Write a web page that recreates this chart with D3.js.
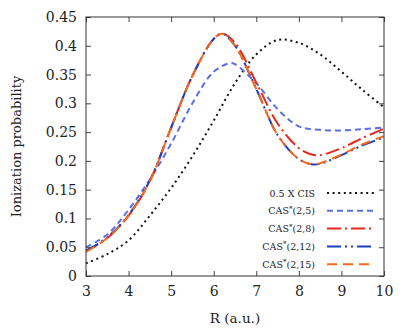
<!DOCTYPE html>
<html>
<head>
<meta charset="utf-8">
<script src="https://cdn.jsdelivr.net/npm/d3@7"></script>
<style>
  body { margin: 0; background: #fff; }
</style>
</head>
<body>
<div id="svg-container"></div>
<script>
// Values.
const xTicks = [3, 4, 5, 6, 7, 8, 9, 10];
const yTicks = [0, 0.05, 0.1, 0.15, 0.2, 0.25, 0.3, 0.35, 0.4, 0.45];
const yTickLabels = ['0', '0.05', '0.1', '0.15', '0.2', '0.25', '0.3', '0.35', '0.4', '0.45'];

const rCis = [3, 3.5, 4, 4.5, 5, 5.5, 6, 6.5, 7, 7.5, 8, 8.5, 9, 9.5, 10];
const cis = [0.022, 0.038, 0.062, 0.105, 0.153, 0.208, 0.27, 0.335, 0.385, 0.41, 0.405, 0.385, 0.355, 0.323, 0.293];

const rCas5 = [3, 3.5, 4, 4.5, 5, 5.5, 6, 6.4, 6.5, 7, 7.5, 8, 8.5, 9, 9.5, 10];
const cas5 = [0.05, 0.072, 0.115, 0.168, 0.23, 0.3, 0.355, 0.37, 0.368, 0.335, 0.29, 0.26, 0.254, 0.253, 0.255, 0.258];

const rCas = [3, 3.5, 4, 4.5, 5, 5.5, 6, 6.2, 6.5, 7, 7.5, 8, 8.3, 8.5, 9, 9.5, 10];
const cas8 = [0.043, 0.066, 0.105, 0.165, 0.258, 0.348, 0.412, 0.421, 0.405, 0.336, 0.265, 0.222, 0.211, 0.21, 0.222, 0.24, 0.256];
const cas12 = [0.044, 0.067, 0.106, 0.166, 0.258, 0.348, 0.412, 0.421, 0.4, 0.325, 0.245, 0.203, 0.194, 0.195, 0.21, 0.227, 0.241];
const cas15 = [0.042, 0.066, 0.105, 0.165, 0.258, 0.348, 0.412, 0.421, 0.4, 0.325, 0.245, 0.203, 0.194, 0.196, 0.211, 0.229, 0.243];

const seriesNames = ['0.5 X CIS', 'CAS*(2,5)', 'CAS*(2,8)', 'CAS*(2,12)', 'CAS*(2,15)'];

const series = [
  {name: seriesNames[0], xs: rCis, ys: cis, color: '#111111', dash: '2,3.6'},
  {name: seriesNames[1], xs: rCas5, ys: cas5, color: '#5b6fe6', dash: '6,4'},
  {name: seriesNames[2], xs: rCas, ys: cas8, color: '#e8281c', dash: '14,4,2,4'},
  {name: seriesNames[3], xs: rCas, ys: cas12, color: '#1c3fbf', dash: '14,4,2,4,2,4'},
  {name: seriesNames[4], xs: rCas, ys: cas15, color: '#f46a1c', dash: '10,6'}
];

const font = 'DejaVu Serif';
const width = 416;
const height = 333;
const padding = {top: 17, right: 32, bottom: 57, left: 86};

const svg = d3.select('div#svg-container')
  .append('svg')
  .attr('width', width)
  .attr('height', height);

const xScale = d3.scaleLinear()
  .domain([3, 10])
  .range([padding.left, width - padding.right]);
const yScale = d3.scaleLinear()
  .domain([0, 0.45])
  .range([height - padding.bottom, padding.top]);

// Curves, clipped to the plot area.
svg.append('clipPath')
  .attr('id', 'plot-clip')
  .append('rect')
  .attr('x', padding.left)
  .attr('y', padding.top)
  .attr('width', width - padding.left - padding.right)
  .attr('height', height - padding.top - padding.bottom);

const line = d3.line()
  .x((d) => xScale(d[0]))
  .y((d) => yScale(d[1]))
  .curve(d3.curveCatmullRom.alpha(0.5));

svg.append('g')
  .attr('clip-path', 'url(#plot-clip)')
  .selectAll('path')
  .data(series)
  .enter()
  .append('path')
  .attr('d', (s) => line(s.xs.map((x, i) => [x, s.ys[i]])))
  .attr('fill', 'none')
  .attr('stroke', (s) => s.color)
  .attr('stroke-width', 2)
  .attr('stroke-dasharray', (s) => s.dash);

// Axes, ticks point inward on all four sides.
const bottomAxis = d3.axisBottom(xScale).tickValues(xTicks).tickSizeInner(-5).tickSizeOuter(0).tickPadding(10)
  .tickFormat(d3.format('d'));
const topAxis = d3.axisTop(xScale).tickValues(xTicks).tickSizeInner(-5).tickSizeOuter(0).tickFormat('');
const leftAxis = d3.axisLeft(yScale).tickValues(yTicks).tickSizeInner(-5).tickSizeOuter(0).tickPadding(9)
  .tickFormat((d, i) => yTickLabels[i]);
const rightAxis = d3.axisRight(yScale).tickValues(yTicks).tickSizeInner(-5).tickSizeOuter(0).tickFormat('');

function styleAxis(g)
{
  g.attr('font-family', null);
  g.select('.domain').remove();
  g.selectAll('line').attr('stroke', '#444');
  g.selectAll('text').attr('font-size', 14).attr('font-family', font).attr('fill', '#222');
}

svg.append('g')
  .attr('transform', `translate(0, ${height - padding.bottom})`)
  .call(bottomAxis)
  .call(styleAxis);
svg.append('g')
  .attr('transform', `translate(0, ${padding.top})`)
  .call(topAxis)
  .call(styleAxis);
svg.append('g')
  .attr('transform', `translate(${padding.left}, 0)`)
  .call(leftAxis)
  .call(styleAxis);
svg.append('g')
  .attr('transform', `translate(${width - padding.right}, 0)`)
  .call(rightAxis)
  .call(styleAxis);

// Frame.
svg.append('rect')
  .attr('x', padding.left)
  .attr('y', padding.top)
  .attr('width', width - padding.left - padding.right)
  .attr('height', height - padding.top - padding.bottom)
  .attr('fill', 'none')
  .attr('stroke', '#333')
  .attr('stroke-width', 1);

// Legend.
const legend = svg.append('g')
  .selectAll('g')
  .data(series)
  .enter()
  .append('g')
  .attr('transform', (s, i) => `translate(0, ${193 + i * 17.8})`);

legend.append('text')
  .attr('x', 315)
  .attr('y', 3.5)
  .attr('text-anchor', 'end')
  .attr('font-family', font)
  .attr('font-size', 9.5)
  .attr('fill', '#222')
  .each(function (s)
  {
    const t = d3.select(this);
    const m = s.name.match(/^CAS\*(.*)$/);
    if (m)
    {
      t.append('tspan').text('CAS');
      t.append('tspan').attr('dy', -3.5).attr('font-size', 7).text('*');
      t.append('tspan').attr('dy', 3.5).text(m[1]);
    }
    else
    {
      t.text(s.name);
    }
  });

legend.append('line')
  .attr('x1', 327)
  .attr('x2', 374)
  .attr('y1', 0)
  .attr('y2', 0)
  .attr('stroke', (s) => s.color)
  .attr('stroke-width', 2)
  .attr('stroke-dasharray', (s) => s.dash);

// Axis titles.
svg.append('text')
  .attr('x', xScale(6.5))
  .attr('y', 323)
  .attr('text-anchor', 'middle')
  .attr('font-family', font)
  .attr('font-size', 13.5)
  .attr('fill', '#222')
  .text('R (a.u.)');

svg.append('text')
  .attr('transform', 'rotate(-90)')
  .attr('x', -(padding.top + height - padding.bottom) / 2)
  .attr('y', 21)
  .attr('text-anchor', 'middle')
  .attr('font-family', font)
  .attr('font-size', 13)
  .attr('fill', '#222')
  .text('Ionization probability');
</script>
</body>
</html>
